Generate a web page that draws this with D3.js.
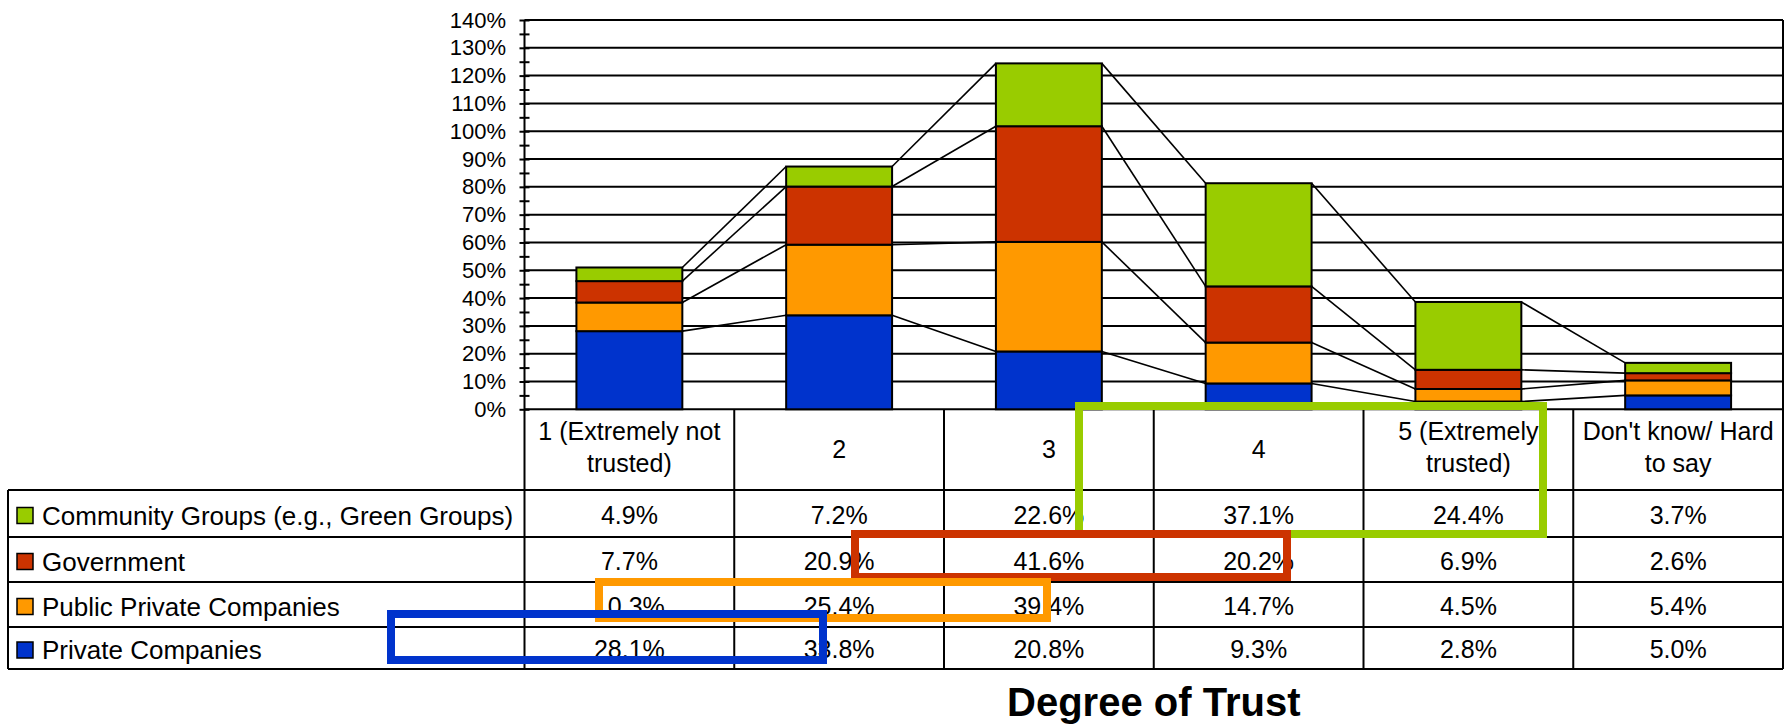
<!DOCTYPE html>
<html>
<head>
<meta charset="utf-8">
<script src="https://cdn.jsdelivr.net/npm/d3@7"></script>
<style>
    html, body { margin: 0; padding: 0; background: #fff; }
    svg { display: block; font-family: "Liberation Sans", Arial, sans-serif; }
</style>
</head>
<body>
<div id="mainFigure"></div>
<script>
// categories (x axis / table header), one entry per line of the header cell
const categories = ['1', '2', '3', '4', '5', 'DK'];
const categoryLines = [
    ['1 (Extremely not', 'trusted)'],
    ['2'],
    ['3'],
    ['4'],
    ['5 (Extremely', 'trusted)'],
    ["Don't know/ Hard", 'to say']
];

// series, bottom of the stack first
const seriesNames = ['Private Companies', 'Public Private Companies', 'Government', 'Community Groups (e.g., Green Groups)'];
const seriesColors = ['#0033cc', '#ff9900', '#cc3300', '#99cc00'];

// values in percent
const privateCompanies = [28.1, 33.8, 20.8, 9.3, 2.8, 5.0];
const publicPrivateCompanies = [10.3, 25.4, 39.4, 14.7, 4.5, 5.4];
const government = [7.7, 20.9, 41.6, 20.2, 6.9, 2.6];
const communityGroups = [4.9, 7.2, 22.6, 37.1, 24.4, 3.7];

const yTicks = d3.range(0, 29).map(i => i * 5); // 0..140 step 5

// layout
const W = 1786, H = 727;
const plot = { left: 524.5, right: 1783, top: 20, bottom: 409.3 };
const rowEdges = [490, 537, 582, 627, 669];   // table body rows
const tableLeft = 8;

// highlight boxes drawn over the table (outer edges)
const highlights = [
    { color: '#99cc00', x0: 1075, y0: 402, x1: 1547, y1: 538 },
    { color: '#cc3300', x0: 851, y0: 530, x1: 1291, y1: 581 },
    { color: '#ff9900', x0: 595, y0: 578, x1: 1051, y1: 622 },
    { color: '#0033cc', x0: 387, y0: 610, x1: 827, y1: 664 }
];

const allSeries = [privateCompanies, publicPrivateCompanies, government, communityGroups];
const rows = categories.map((c, i) => {
    const r = { cat: c };
    seriesNames.forEach((s, k) => { r[s] = allSeries[k][i]; });
    return r;
});

const svg = d3.select('#mainFigure')
    .append('svg')
    .attr('width', W)
    .attr('height', H);

svg.append('rect').attr('width', W).attr('height', H).attr('fill', '#fff');

// scales
const x = d3.scaleBand()
    .domain(categories)
    .range([plot.left, plot.right]);

const y = d3.scaleLinear()
    .domain([0, 140])
    .range([plot.bottom, plot.top]);

const barW = x.bandwidth() * 0.505;
const barX = c => x(c) + (x.bandwidth() - barW) / 2;

// gridlines
svg.append('g')
    .selectAll('line')
    .data(yTicks.filter((d, i) => i % 2 === 0))
    .join('line')
    .attr('x1', plot.left)
    .attr('x2', plot.right)
    .attr('y1', d => y(d))
    .attr('y2', d => y(d))
    .attr('stroke', '#000')
    .attr('stroke-width', 2);

// y axis (labels + crossing ticks)
const yAxis = svg.append('g')
    .attr('transform', `translate(${plot.left},0)`)
    .call(d3.axisLeft(y)
        .tickValues(yTicks)
        .tickSizeInner(5)
        .tickSizeOuter(0)
        .tickPadding(13.5)
        .tickFormat((d, i) => i % 2 === 0 ? d + '%' : ''));
yAxis.select('.domain').remove();
yAxis.selectAll('.tick line')
    .attr('x1', 5)
    .attr('stroke', '#000')
    .attr('stroke-width', 2);
yAxis.selectAll('.tick text')
    .attr('fill', '#000')
    .style('font-size', '22px')
    .style('font-family', '"Liberation Sans", Arial, sans-serif');

// stacked bars
const stack = d3.stack().keys(seriesNames)(rows);

// connector lines between neighbouring bars at each series top
const connectors = [];
stack.forEach(layer => {
    for (let i = 0; i < layer.length - 1; i++) {
        connectors.push({
            x1: barX(categories[i]) + barW, y1: y(layer[i][1]),
            x2: barX(categories[i + 1]), y2: y(layer[i + 1][1])
        });
    }
});
svg.append('g')
    .selectAll('line')
    .data(connectors)
    .join('line')
    .attr('x1', d => d.x1).attr('y1', d => d.y1)
    .attr('x2', d => d.x2).attr('y2', d => d.y2)
    .attr('stroke', '#000')
    .attr('stroke-width', 1.6);

svg.append('g')
    .selectAll('g')
    .data(stack)
    .join('g')
    .attr('fill', (d, i) => seriesColors[i])
    .selectAll('rect')
    .data(d => d)
    .join('rect')
    .attr('x', d => barX(d.data.cat))
    .attr('width', barW)
    .attr('y', d => y(d[1]))
    .attr('height', d => y(d[0]) - y(d[1]))
    .attr('stroke', '#000')
    .attr('stroke-width', 2);

// plot frame: left axis line down through the table, right border
const frame = svg.append('g').attr('stroke', '#000').attr('stroke-width', 2);
frame.append('line')
    .attr('x1', plot.left).attr('x2', plot.left)
    .attr('y1', y(140)).attr('y2', rowEdges[rowEdges.length - 1]);
frame.append('line')
    .attr('x1', plot.right).attr('x2', plot.right)
    .attr('y1', y(140)).attr('y2', rowEdges[rowEdges.length - 1]);

// data table
const table = svg.append('g');
const tableBottom = rowEdges[rowEdges.length - 1];

// column separators (header + body)
table.selectAll('line.col')
    .data(categories.slice(1))
    .join('line')
    .attr('class', 'col')
    .attr('x1', d => x(d)).attr('x2', d => x(d))
    .attr('y1', y(0)).attr('y2', tableBottom)
    .attr('stroke', '#000')
    .attr('stroke-width', 2);

// horizontal rules
table.selectAll('line.row')
    .data(rowEdges)
    .join('line')
    .attr('class', 'row')
    .attr('x1', tableLeft).attr('x2', plot.right)
    .attr('y1', d => d).attr('y2', d => d)
    .attr('stroke', '#000')
    .attr('stroke-width', 2);
table.append('line')
    .attr('x1', tableLeft).attr('x2', tableLeft)
    .attr('y1', rowEdges[0]).attr('y2', tableBottom)
    .attr('stroke', '#000')
    .attr('stroke-width', 2);

// header text
const headMid = (y(0) + rowEdges[0]) / 2;
categories.forEach((c, i) => {
    const lines = categoryLines[i];
    const cx = x(c) + x.bandwidth() / 2;
    const t = table.append('text')
        .attr('text-anchor', 'middle')
        .style('font-size', '25px')
        .attr('fill', '#000');
    lines.forEach((ln, j) => {
        const base = lines.length === 1 ? headMid + 8.5 : headMid - 10 + j * 32.5;
        t.append('tspan').attr('x', cx).attr('y', base).text(ln);
    });
});

// body rows: top row is the top of the stack
const tableSeries = d3.range(seriesNames.length).reverse();
tableSeries.forEach((k, r) => {
    const mid = (rowEdges[r] + rowEdges[r + 1]) / 2;
    // legend key
    table.append('rect')
        .attr('x', 17).attr('y', mid - 6)
        .attr('width', 16).attr('height', 16)
        .attr('fill', seriesColors[k])
        .attr('stroke', '#000')
        .attr('stroke-width', 1.5);
    table.append('text')
        .attr('x', 42).attr('y', mid + 11)
        .style('font-size', '26px')
        .attr('fill', '#000')
        .text(seriesNames[k]);
    // values
    table.selectAll(null)
        .data(allSeries[k])
        .join('text')
        .attr('x', (d, i) => x(categories[i]) + x.bandwidth() / 2)
        .attr('y', mid + 10)
        .attr('text-anchor', 'middle')
        .style('font-size', '25px')
        .attr('fill', '#000')
        .text(d => d.toFixed(1) + '%');
});

// axis title
svg.append('text')
    .attr('x', (plot.left + plot.right) / 2)
    .attr('y', 716)
    .attr('text-anchor', 'middle')
    .style('font-size', '40px')
    .style('font-weight', 'bold')
    .attr('fill', '#000')
    .text('Degree of Trust');

// highlight boxes
svg.append('g')
    .selectAll('rect')
    .data(highlights)
    .join('rect')
    .attr('x', d => d.x0 + 4)
    .attr('y', d => d.y0 + 4)
    .attr('width', d => d.x1 - d.x0 - 8)
    .attr('height', d => d.y1 - d.y0 - 8)
    .attr('fill', 'none')
    .attr('stroke', d => d.color)
    .attr('stroke-width', 8);
</script>
</body>
</html>
